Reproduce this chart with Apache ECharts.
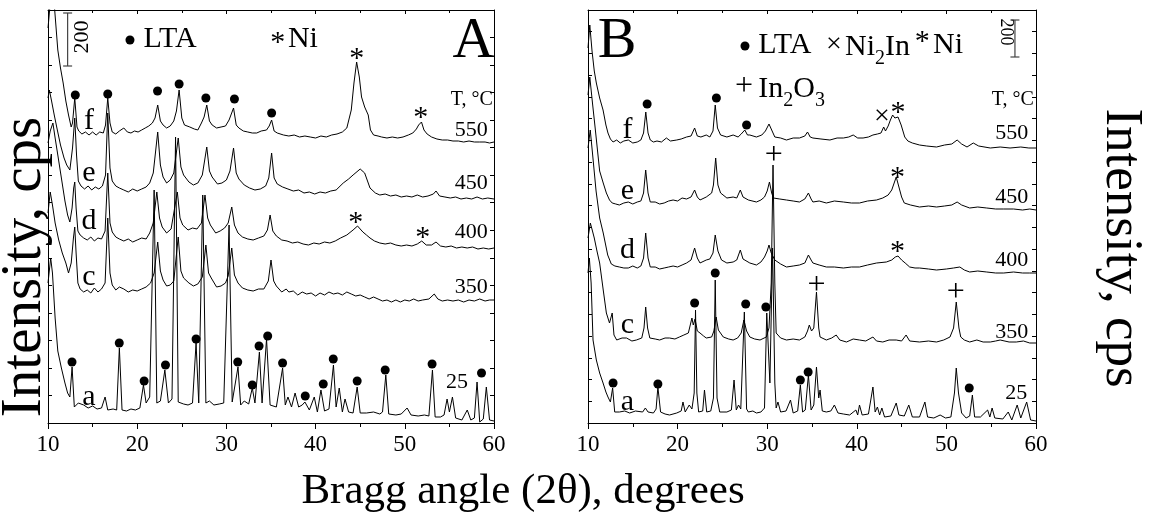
<!DOCTYPE html>
<html><head><meta charset="utf-8">
<script src="https://cdn.jsdelivr.net/npm/echarts/dist/echarts.min.js"></script>
<style>html,body{margin:0;padding:0;background:#fff}#c{width:1149px;height:522px}</style>
</head><body><div id="c"></div>
<script>
// ---------------- DATA (2θ in degrees, intensity in arbitrary units; curves are stacked) ----------------
const xTicks = [10, 20, 30, 40, 50, 60];

// Panel A
const A_a = [[10.0,140],[10.3,165],[10.5,150],[10.8,105],[11.1,72],[11.5,55],[11.9,40],[12.2,30],[12.45,26],
[12.7,56],[12.95,16],[13.4,20],[14.0,18],[14.5,15],[15.0,17],[15.5,14],[16.0,15],[16.4,26],[16.7,13],[17.3,14],[17.7,13],
[18.0,75],[18.3,13],[18.8,12],[19.3,14],[19.8,13],[20.3,15],[20.7,38],[21.0,20],[21.4,26],
[21.9,233],[22.2,20],[22.6,22],[23.1,53],[23.5,20],[23.9,24],[24.3,286],[24.6,21],[25.2,19],[25.7,18],[26.2,20],
[26.6,80],[26.9,20],[27.35,228],[27.7,20],[28.1,22],[28.3,24],[28.6,18],[29.2,19],[29.7,20],
[30.3,198],[30.65,21],[31.3,56],[31.6,18],[32.0,22],[32.5,19],[32.9,35],[33.2,20],[33.7,71],[34.0,20],
[34.5,84],[34.9,18],[35.6,16],[36.3,55],[36.6,18],[36.9,26],[37.3,16],[37.7,30],[38.1,16],[38.5,18],
[38.8,21],[39.3,13],[39.85,26],[40.2,11],[40.6,33],[41.0,12],[41.5,14],[42.0,58],[42.3,16],[42.65,35],[43.0,11],[43.3,24],[43.7,11],[44.2,10],
[44.66,36],[45.0,10],[45.7,10],[46.5,11],[47.2,9],[47.5,11],[47.87,48],[48.2,9],[49.0,8],[49.6,9],[50.26,15],[50.7,8],[51.5,7],[52.2,8],[52.7,7],
[53.1,53],[53.4,6],[54.0,6],[54.4,8],[54.74,24],[55.0,11],[55.34,26],[55.7,5],[56.4,3],[57.0,13],[57.4,3],[57.8,5],
[58.1,41],[58.4,1],[58.8,4],[59.14,36],[59.5,3],[60.0,2]];
const A_c = [[10.0,210],[10.25,231],[10.5,218],[10.8,200],[11.2,183],[11.6,170],[12.0,160],[12.3,150],
[12.6,160],[12.85,185],[13.0,196],[13.15,170],[13.35,140],[13.6,134],[14.0,131],[14.4,133],[14.8,130],[15.2,135],[15.6,131],[16.0,134],[16.4,140],
[16.7,205],[16.95,150],[17.2,138],[17.6,133],[18.0,136],[18.5,134],[19.0,131],[19.5,133],[20.0,132],[20.5,134],[21.0,136],[21.5,140],[21.9,150],
[22.3,181],[22.6,152],[22.9,143],[23.3,137],[23.7,138],[24.1,142],[24.6,186],[24.9,152],[25.2,145],[25.8,140],[26.3,137],[26.8,139],[27.3,146],
[27.7,178],[28.0,150],[28.3,145],[28.9,136],[29.4,137],[29.9,140],[30.2,147],[30.6,175],[30.9,148],[31.3,140],[31.8,135],[32.4,133],[33.0,132],[33.6,134],[34.2,134],[34.7,142],
[35.0,163],[35.3,142],[35.6,137],[36.2,131],[36.7,134],[37.0,131],[37.5,132],[38.0,128],[38.5,131],[39.0,129],[39.5,130],[40.0,127],[40.5,130],[41.0,128],[41.5,131],[42.0,129],[42.5,130],[43.0,128],[43.5,131],[44.0,129],[44.5,127],[45.0,128],[45.5,126],[46.0,124],[46.5,126],[47.0,124],[47.5,122],[48.0,123],[48.5,121],[49.0,123],[49.5,121],[50.0,123],[50.5,122],[51.0,124],[51.5,122],[52.0,123],[52.7,124],[53.3,129],[53.7,124],[54.2,122],[54.8,123],[55.4,122],[56.0,123],[56.6,121],[57.2,123],[57.8,122],[58.4,124],[59.0,122],[59.5,123],[60.0,123]];
const A_d = [[10.0,280],[10.25,292],[10.55,300],[10.8,285],[11.1,268],[11.5,245],[11.9,222],[12.2,208],[12.45,201],
[12.7,215],[12.88,235],[13.0,241],[13.15,215],[13.35,192],[13.6,188],[14.0,185],[14.4,183],[14.8,186],[15.2,182],[15.6,185],[16.0,184],[16.4,192],
[16.7,250],[16.95,200],[17.2,191],[17.6,186],[18.0,184],[18.5,182],[19.0,184],[19.5,181],[20.0,183],[20.5,185],[21.0,184],[21.4,190],[21.8,200],
[22.2,231],[22.5,205],[22.8,196],[23.3,190],[23.8,194],[24.5,231],[24.8,205],[25.1,198],[25.7,193],[26.2,195],[26.7,194],[27.2,200],
[27.6,228],[27.9,205],[28.2,198],[28.8,190],[29.3,192],[29.8,195],[30.2,200],[30.6,216],[30.9,198],[31.3,190],[31.8,186],[32.4,184],[33.0,183],[33.6,185],[34.2,187],[34.6,193],
[34.9,208],[35.2,192],[35.6,187],[36.2,183],[36.8,182],[37.4,180],[38.0,181],[38.6,179],[39.2,178],[39.8,180],[40.4,179],[41.0,181],[41.6,180],[42.2,182],[42.8,185],[43.5,188],[44.2,193],
[44.7,197],[45.3,191],[45.7,188],[46.1,185],[46.6,182],[47.2,180],[47.8,179],[48.4,180],[49.0,178],[49.6,177],[50.2,178],[50.8,177],[51.4,179],[51.9,182],[52.4,178],[53.0,178],[53.5,181],[54.0,177],[54.6,176],[55.2,177],[55.8,175],[56.4,176],[57.0,175],[57.6,176],[58.2,174],[58.8,175],[59.4,174],[60.0,175]];
const A_e = [[10.0,325],[10.15,333],[10.4,322],[10.7,308],[11.0,295],[11.4,278],[11.8,265],[12.1,258],[12.45,253],
[12.75,275],[13.0,305],[13.2,268],[13.4,242],[13.7,237],[14.1,234],[14.5,237],[14.9,233],[15.3,236],[15.7,234],[16.1,237],[16.45,248],
[16.7,310],[16.95,255],[17.2,242],[17.6,237],[18.0,235],[18.5,233],[19.0,231],[19.5,234],[20.0,232],[20.5,234],[21.0,236],[21.4,240],[21.8,250],
[22.3,291],[22.6,258],[22.9,246],[23.3,240],[23.7,243],[24.1,250],[24.6,285],[24.9,256],[25.2,248],[25.8,241],[26.3,238],[26.8,240],[27.3,248],
[27.8,276],[28.1,252],[28.4,246],[29.0,239],[29.5,240],[30.0,243],[30.4,252],[30.8,275],[31.1,250],[31.4,244],[32.0,238],[32.6,235],[33.2,233],[33.8,234],[34.4,237],[34.75,245],
[35.07,270],[35.35,245],[35.7,239],[36.3,236],[36.9,234],[37.5,232],[38.1,233],[38.7,230],[39.3,231],[39.9,229],[40.5,231],[41.1,230],[41.7,232],[42.3,233],[43.1,240],[43.7,244],[44.2,248],
[45.0,254],[45.5,250],[46.1,235],[46.7,230],[47.2,228],[47.8,229],[48.4,227],[49.0,228],[49.6,226],[50.2,227],[50.8,226],[51.4,228],[52.0,226],[52.6,227],[53.2,229],[53.5,232],[53.9,227],[54.5,226],[55.1,225],[55.7,226],[56.3,224],[56.9,225],[57.5,224],[58.1,226],[58.7,224],[59.3,225],[60.0,224]];
const A_f = [[10.0,395],[10.3,425],[10.5,440],[10.75,413],[11.1,373],[11.4,355],[11.7,340],[12.0,322],[12.3,308],[12.6,296],[12.75,300],
[13.0,325],[13.25,296],[13.45,292],[13.8,289],[14.2,291],[14.6,288],[15.0,291],[15.4,288],[15.8,291],[16.2,290],[16.45,298],
[16.7,325],[16.95,300],[17.2,291],[17.6,289],[18.0,292],[18.5,295],[18.9,291],[19.3,290],[19.7,292],[20.1,291],[20.5,293],[20.9,295],[21.3,297],[21.7,300],[22.0,305],
[22.3,318],[22.6,302],[22.9,298],[23.3,295],[23.7,297],[24.1,302],[24.4,312],[24.7,333],[25.0,305],[25.3,298],[25.9,296],[26.4,294],[26.8,293],[27.2,300],[27.5,306],
[27.8,318],[28.1,302],[28.4,298],[28.9,295],[29.4,296],[29.9,297],[30.3,303],[30.8,315],[31.1,298],[31.4,295],[31.9,292],[32.4,291],[32.9,290],[33.4,290],[33.9,292],[34.5,293],[34.8,297],
[35.07,303],[35.35,292],[35.7,290],[36.4,288],[37.0,287],[37.6,288],[38.2,286],[38.8,287],[39.4,286],[40.0,285],[40.6,287],[41.2,286],[41.8,288],[42.4,289],[43.0,291],[43.5,295],[44.0,313],[44.3,340],
[44.6,361],[44.9,346],[45.15,326],[45.5,316],[45.9,308],[46.15,293],[46.5,288],[47.0,287],[47.4,286],[48.0,285],[48.6,286],[49.2,285],[49.8,286],[50.4,288],[50.9,290],[51.3,294],[51.55,298],
[51.87,301],[52.15,293],[52.5,289],[53.0,286],[53.6,284],[54.2,283],[54.8,283],[55.4,282],[56.0,282],[56.6,281],[57.2,282],[57.8,281],[58.4,281],[59.0,281],[59.5,280],[60.0,281]];

// Panel B
const B_a = [[10.0,150],[10.15,165],[10.35,140],[10.56,83],[10.93,63],[11.3,50],[11.68,40],[12.0,31],[12.23,26],[12.5,21],
[12.75,35],[12.98,11],[13.5,11],[14.1,12],[14.65,10],[15.3,12],[16.1,11],[16.4,15],[16.7,11],[17.3,10],[17.6,14],
[17.8,36],[18.1,11],[18.6,9],[19.1,8],[19.9,10],[20.4,12],[20.6,21],[20.85,11],[21.3,18],[21.6,14],[21.85,30],
[22.0,113],[22.15,30],[22.35,11],[22.8,12],[23.0,33],[23.25,11],[23.7,12],[24.0,25],[24.2,143],[24.4,25],[24.7,11],[25.5,11],[26.0,13],
[26.3,43],[26.55,13],[26.8,18],[27.05,14],[27.45,111],[27.7,14],[27.9,11],[28.4,12],[28.8,10],[29.3,11],[29.7,15],
[29.95,110],[30.3,40],[30.6,175],[30.85,40],[31.0,15],[31.2,21],[31.5,11],[32.1,12],[32.6,23],[32.9,10],[33.4,12],
[33.7,38],[33.95,11],[34.25,13],[34.6,48],[34.9,13],[35.2,18],[35.5,56],[35.75,25],[35.9,33],[36.15,12],[36.6,11],[37.1,12],[37.5,18],[37.9,10],[38.5,9],[39.2,8],[39.9,13],[40.1,8],[40.3,18],[40.6,8],[41.3,9],
[41.8,36],[42.05,11],[42.3,16],[42.55,8],[42.8,15],[43.1,6],[43.8,7],[44.4,20],[44.7,8],[45.3,7],[45.8,18],[46.2,6],[47.0,6],[47.6,21],[47.9,6],[48.6,5],[49.3,8],[49.9,5],[50.5,6],
[50.9,30],[51.1,55],[51.35,30],[51.7,10],[52.2,5],[52.6,7],[52.9,28],[53.15,6],[53.8,6],[54.6,13],[54.85,6],[55.1,15],[55.4,5],[56.3,4],[56.9,11],[57.3,3],[57.9,18],[58.3,5],[58.96,21],[59.4,3],[60.0,2]];
const B_c = [[10.0,185],[10.26,200],[10.5,192],[10.7,185],[11.0,172],[11.3,160],[11.7,133],[12.05,110],[12.4,100],
[12.7,110],[12.9,88],[13.2,83],[13.8,85],[14.3,85],[14.9,82],[15.4,83],[16.0,85],[16.25,95],
[16.44,116],[16.65,95],[16.9,85],[17.5,84],[18.0,83],[18.6,85],[19.1,85],[19.7,84],[20.2,86],[20.7,88],[21.2,90],
[21.6,105],[21.75,98],[21.95,104],[22.2,92],[22.5,90],[22.9,87],[23.2,85],[23.8,86],[24.05,92],
[24.3,106],[24.55,93],[25.1,86],[25.7,84],[26.2,83],[26.7,85],[27.1,90],[27.4,103],[27.7,92],[28.06,86],[28.6,84],[29.2,83],[29.9,86],[30.2,95],[30.45,140],
[30.65,258],[30.85,140],[31.0,90],[31.5,85],[32.15,83],[32.9,84],[33.6,83],[34.2,86],[34.5,92],[34.7,98],[34.95,92],[35.2,95],
[35.5,131],[35.75,95],[35.9,86],[36.6,83],[37.2,85],[37.7,88],[38.1,83],[38.85,81],[39.6,84],[40.3,83],[41.0,82],[41.8,86],[42.2,82],[42.9,81],[43.6,83],[44.4,83],[45.0,82],[45.5,88],[45.9,82],[47.0,81],[48.0,82],[48.9,81],[49.7,83],[50.4,86],[50.8,95],
[51.1,121],[51.4,95],[51.6,86],[52.0,83],[52.6,81],[53.4,83],[54.1,81],[54.9,81],[55.5,82],[56.0,83],[57.0,81],[57.8,81],[58.6,82],[59.3,80],[60.0,80]];
const B_d = [[10.0,275],[10.25,293],[10.5,270],[10.9,232],[11.3,205],[11.7,190],[12.2,168],[12.6,159],[13.0,157],
[13.5,156],[14.0,155],[14.5,155],[15.0,157],[15.5,155],[15.9,157],[16.2,165],[16.44,190],[16.7,165],[16.95,156],[17.5,156],[18.0,154],[18.5,155],[19.0,156],[19.5,157],[20.0,156],[20.5,158],[21.0,160],[21.5,163],
[21.9,175],[22.2,165],[22.5,160],[23.2,163],[23.6,164],[23.95,170],[24.2,188],[24.5,172],[24.9,163],[25.5,160],[26.2,161],[26.6,163],
[27.0,173],[27.3,164],[28.06,160],[28.8,158],[29.3,161],[29.7,166],[30.0,172],[30.2,178],[30.45,170],[30.85,163],[31.5,159],[32.15,156],[32.9,157],[33.6,158],[34.2,160],
[34.6,168],[34.9,163],[35.1,160],[35.8,158],[36.6,156],[37.5,156],[38.5,155],[39.4,156],[40.3,156],[41.2,158],[42.2,160],[43.3,161],[43.9,163],
[44.3,166],[44.6,167],[45.0,163],[45.4,160],[45.9,156],[46.5,155],[47.0,155],[48.0,154],[48.9,153],[50.0,154],[50.8,155],[51.5,156],[52.0,153],[52.6,151],[53.5,152],[54.5,151],[55.5,150],[56.4,150],[57.5,151],[58.5,150],[59.3,150],[60.0,150]];
const B_e = [[10.0,328],[10.2,346],[10.5,320],[10.8,295],[11.3,252],[11.7,240],[12.05,230],[12.4,223],[12.7,220],
[13.1,219],[13.5,218],[14.0,220],[14.5,221],[15.0,219],[15.5,221],[15.9,222],[16.2,230],[16.44,253],[16.7,230],[16.95,221],[17.5,221],[18.0,219],[18.5,220],[19.0,222],[19.5,223],[20.0,222],[20.5,225],[21.0,224],[21.5,226],
[21.9,233],[22.2,226],[22.5,223],[23.2,226],[23.8,230],[24.0,238],[24.25,265],[24.5,238],[24.8,230],[25.5,225],[26.2,226],[26.6,225],
[27.0,233],[27.3,226],[27.9,223],[28.8,221],[29.3,223],[29.7,226],[30.0,232],[30.25,241],[30.5,230],[30.7,225],[31.4,224],[32.15,223],[32.9,222],[33.6,221],[34.2,224],
[34.6,230],[34.9,224],[35.1,221],[35.8,222],[36.6,220],[37.5,222],[38.5,221],[39.4,220],[40.3,220],[41.2,222],[42.2,223],[42.9,225],[43.5,228],[43.9,233],
[44.4,246],[44.7,236],[45.0,226],[45.3,220],[46.0,218],[47.0,216],[48.0,217],[48.9,216],[49.8,217],[50.6,218],[51.2,221],[51.7,218],[52.6,215],[53.5,216],[54.5,215],[55.5,214],[56.4,214],[57.5,214],[58.5,213],[59.3,214],[60.0,213]];
const B_f = [[10.0,375],[10.2,398],[10.45,372],[10.7,352],[10.93,340],[11.3,325],[11.68,313],[12.0,298],[12.23,290],[12.5,284],[12.8,281],
[13.2,283],[13.6,280],[14.0,282],[14.5,283],[15.0,280],[15.5,281],[15.9,283],[16.2,290],[16.45,311],[16.7,290],[16.95,283],[17.3,281],[17.7,282],[18.2,281],[18.75,285],[19.2,282],[19.9,283],[20.4,284],[21.0,286],[21.5,287],
[21.9,295],[22.2,287],[22.6,286],[23.2,288],[23.6,286],[23.95,292],[24.2,318],[24.45,295],[24.8,288],[25.5,286],[26.2,288],[26.75,286],[27.1,289],
[27.5,293],[27.8,288],[28.06,288],[28.8,286],[29.4,288],[29.8,292],[30.2,299],[30.5,293],[30.85,286],[31.5,285],[32.15,283],[32.9,285],[33.6,285],[34.2,287],
[34.5,291],[34.8,286],[35.1,285],[36.0,284],[37.0,283],[37.8,285],[38.5,285],[39.1,286],[39.6,288],[40.1,285],[40.7,285],[41.3,286],[41.8,288],[42.3,289],[42.7,290],
[43.0,296],[43.2,292],[43.5,297],[43.75,303],[44.0,308],[44.25,305],[44.6,306],[44.95,298],[45.35,286],[45.7,282],[46.2,280],[47.0,278],[47.8,277],[48.9,276],[49.8,278],[50.6,279],
[51.2,283],[51.7,279],[52.3,276],[53.0,280],[53.6,277],[54.9,275],[56.0,276],[57.1,275],[58.3,276],[59.2,275],[60.0,275]];

// Phase markers
const A_lta = [[13.06,328],[16.7,329],[22.28,332],[24.7,339],[27.7,325],[30.9,324],[35.07,310],
[12.69,61],[17.99,80],[20.78,42],[23.17,58],[26.6,84],[31.27,61],[32.9,38],[33.66,77],[34.63,87],[36.3,60],[38.84,27],[40.86,39],[41.98,64],[44.66,42],[47.8,53],[53.06,59],[58.6,50]];
const A_ni = [[44.6,370],[51.8,311],[44.5,206],[52.0,191]];
const B_lta = [[16.6,319],[24.33,325],[27.7,298],[21.9,120],[24.2,150],[27.6,119],[29.85,116],[12.8,40],[17.8,39],[33.7,43],[34.57,51],[52.55,35]];
const B_ni = [[44.6,316],[44.55,251],[44.55,177]];
const B_ni2in = [[42.8,306]];
const B_in2o3 = [[30.74,268],[35.5,138],[51.06,131]];

// Scale bars (200 cps)
const A_bar = [[12.2,357],[12.2,410]];
const B_bar = [[57.65,366],[57.65,403]];

const curveLetters = ['f','e','d','c','a'];
const temps = ['550','450','400','350','25'];

// ---------------- CHART ----------------
const FONT = "'Liberation Serif','Times New Roman',serif";
const Y_MAX = 413;
const chart = echarts.init(document.getElementById('c'), null, {renderer:'canvas'});

function bottomX(g){return {type:'value',gridIndex:g,min:10,max:60,interval:10,position:'bottom',
  axisLine:{show:true,onZero:false,lineStyle:{color:'#000',width:1}},
  axisTick:{show:true,inside:false,length:6,lineStyle:{color:'#000',width:1}},
  minorTick:{show:true,splitNumber:2,length:4,lineStyle:{color:'#000',width:1}},
  axisLabel:{color:'#000',fontFamily:FONT,fontSize:23,margin:10},
  splitLine:{show:false},minorSplitLine:{show:false}};}
function topX(g){return {type:'value',gridIndex:g,min:10,max:60,interval:10,position:'top',
  axisLine:{show:true,onZero:false,lineStyle:{color:'#000',width:1}},
  axisTick:{show:true,inside:true,length:4,lineStyle:{color:'#000',width:1}},
  minorTick:{show:true,splitNumber:2,length:3,lineStyle:{color:'#000',width:1}},
  axisLabel:{show:false},splitLine:{show:false}};}
function sideY(g,pos,iv){return {type:'value',gridIndex:g,min:0,max:Y_MAX,interval:iv,position:pos,
  axisLine:{show:true,onZero:false,lineStyle:{color:'#000',width:1}},
  axisTick:{show:true,inside:true,length:4,lineStyle:{color:'#000',width:1}},
  axisLabel:{show:false},splitLine:{show:false}};}

const A = {x:0,y:0}, B = {x:2,y:2};
const series = [];
function line(p, data){series.push({type:'line',xAxisIndex:p.x,yAxisIndex:p.y,data:data,symbol:'none',
  lineStyle:{color:'#000',width:1},silent:true,animation:false,z:3,clip:true});}
function dots(p, data){series.push({type:'scatter',xAxisIndex:p.x,yAxisIndex:p.y,data:data,symbol:'circle',
  symbolSize:9,itemStyle:{color:'#000',opacity:1},silent:true,animation:false,z:4});}
function glyphs(p, data, ch, size, dy){series.push({type:'scatter',xAxisIndex:p.x,yAxisIndex:p.y,data:data,
  symbolSize:0,itemStyle:{color:'#000',opacity:1},silent:true,animation:false,z:5,
  label:{show:true,position:'inside',formatter:ch,color:'#000',opacity:1,fontFamily:FONT,fontSize:size,offset:[0,dy||0]}});}
function text(p, x, y, str, o){o=o||{};series.push({type:'scatter',xAxisIndex:p.x,yAxisIndex:p.y,data:[[x,y]],
  symbolSize:0,itemStyle:{color:'#000',opacity:1},silent:true,animation:false,z:6,clip:false,
  label:{show:true,position:'inside',formatter:str,color:'#000',opacity:1,fontFamily:FONT,fontSize:o.size||22,
    align:o.align||'center',verticalAlign:'middle',rotate:o.rotate||0,offset:o.offset||[0,0],rich:o.rich}});}
function bar(p, data){series.push({type:'line',xAxisIndex:p.x,yAxisIndex:p.y,data:data,symbol:'rect',symbolSize:[9,1.2],
  showSymbol:true,lineStyle:{color:'#444',width:1.2},itemStyle:{color:'#444',opacity:1},silent:true,animation:false,z:4});}

[A_a,A_c,A_d,A_e,A_f].forEach(d=>line(A,d));
[B_a,B_c,B_d,B_e,B_f].forEach(d=>line(B,d));
dots(A, A_lta); dots(B, B_lta);
glyphs(A, A_ni, '*', 30, 6);
glyphs(B, B_ni, '*', 30, 6);
glyphs(B, B_ni2in, '×', 28, 0);
glyphs(B, B_in2o3, '+', 32, 1);
bar(A, A_bar); bar(B, B_bar);

// legend-like annotations
const rich = {n:{fontFamily:FONT,fontSize:30,color:'#000',lineHeight:30,verticalAlign:'top'},
              s:{fontFamily:FONT,fontSize:20,color:'#000',lineHeight:20,verticalAlign:'top',padding:[17,0,0,0]}};
dots(A, [[19.19,383]]);
text(A, 20.7, 384, 'LTA', {size:30, align:'left'});
text(A, 35.75, 383, '*', {size:30, offset:[0,3]});
text(A, 36.9, 384, 'Ni', {size:30, align:'left'});
text(A, 57.7, 381, 'A', {size:58});
text(A, 13.8, 386, '200', {size:22, rotate:90});

dots(B, [[27.52,377]]);
text(B, 29.0, 378, 'LTA', {size:30, align:'left'});
text(B, 37.45, 378, '×', {size:28});
text(B, 38.68, 376, '{n|Ni}{s|2}{n|In}', {align:'left', rich:rich});
text(B, 47.3, 384, '*', {size:30, offset:[0,3]});
text(B, 48.5, 378, 'Ni', {size:30, align:'left'});
text(B, 27.41, 337, '+', {size:32, offset:[0,1]});
text(B, 29.0, 334, '{n|In}{s|2}{n|O}{s|3}', {align:'left', rich:rich});
text(B, 13.24, 381, 'B', {size:58});
text(B, 56.65, 391, '200', {size:18, rotate:-90});

// curve letters & temperatures
const A_letterY = [302, 250, 202, 146, 26];
const A_tempY = [293, 240, 191, 136, 41];
const B_letterY = [293, 232, 173, 98, 21];
const B_tempY = [290, 226, 163, 91, 30];
curveLetters.forEach((s,i)=>{ text(A, 14.6, A_letterY[i], s, {size:30}); text(B, 14.4, B_letterY[i], s, {size:30}); });
temps.forEach((s,i)=>{
  text(A, i===4?55.85:57.45, A_tempY[i], s, {size:22});
  text(B, i===4?57.8:57.3, B_tempY[i], s, {size:22});
});
text(A, 57.5, 323, 'T, °C', {size:20});
text(B, 57.4, 323, 'T, °C', {size:20});

const option = {
  animation:false, backgroundColor:'#fff',
  grid:[{left:48,top:10,width:446,height:413},{left:588,top:10,width:448,height:413}],
  xAxis:[bottomX(0),topX(0),bottomX(1),topX(1)],
  yAxis:[sideY(0,'left',Y_MAX/15),sideY(0,'right',Y_MAX/15),sideY(1,'left',Y_MAX/19),sideY(1,'right',Y_MAX/19)],
  graphic:[
    {type:'text',x:25,y:267,rotation:Math.PI/2,style:{text:'Intensity, cps',font:'57px '+FONT,fill:'#000',textAlign:'center',textVerticalAlign:'middle'}},
    {type:'text',x:1121,y:248,rotation:-Math.PI/2,style:{text:'Intensity, cps',font:'53px '+FONT,fill:'#000',textAlign:'center',textVerticalAlign:'middle'}},
    {type:'text',x:523,y:492,style:{text:'Bragg angle (2θ), degrees',font:'43px '+FONT,fill:'#000',textAlign:'center',textVerticalAlign:'middle'}}
  ],
  series:series
};
chart.setOption(option);
</script></body></html>
